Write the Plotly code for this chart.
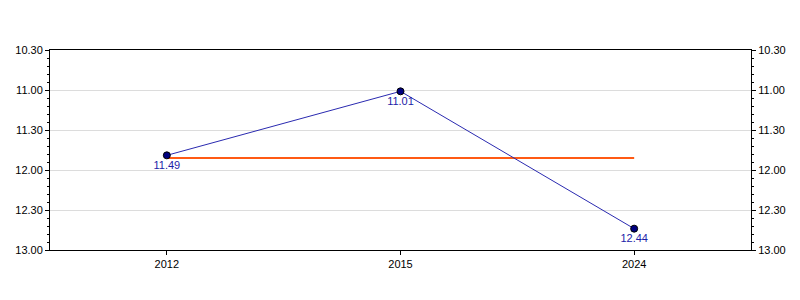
import plotly.graph_objects as go

years = ["2012", "2015", "2024"]
times = ["11.49", "11.01", "12.44"]          # minutes.seconds
average_time = "11.51"                        # orange reference line
y_tick_labels = ["10.30", "11.00", "11.30", "12.00", "12.30", "13.00"]


def to_minutes(s):
    m, sec = s.split(".")
    return int(m) + int(sec) / 60.0


yvals = [to_minutes(t) for t in times]
tickvals = [to_minutes(t) for t in y_tick_labels]
avg = to_minutes(average_time)

FONT = "Liberation Sans, Arial, sans-serif"

fig = go.Figure()
fig.add_trace(go.Scatter(
    x=years, y=[avg] * len(years), mode="lines",
    line=dict(color="#ff5a14", width=2), hoverinfo="skip", showlegend=False))
fig.add_trace(go.Scatter(
    x=years, y=yvals, mode="lines+markers+text",
    text=times, textposition="bottom center",
    textfont=dict(family=FONT, size=11, color="#1c1ca8"),
    line=dict(color="#2a2ab0", width=1),
    marker=dict(size=7, color="#000080", line=dict(color="#000000", width=1)),
    showlegend=False))
fig.add_trace(go.Scatter(
    x=years, y=yvals, yaxis="y2", mode="markers",
    marker=dict(opacity=0), hoverinfo="skip", showlegend=False))

yaxis_common = dict(
    range=[13.0, 10.5], tickvals=tickvals, ticktext=y_tick_labels,
    ticks="outside", ticklen=4, tickcolor="black", tickwidth=1,
    showline=True, linecolor="black", linewidth=1,
    tickfont=dict(family=FONT, size=11, color="black"),
    minor=dict(dtick=0.1, tick0=10.5, ticks="outside", ticklen=2,
               tickcolor="black", showgrid=False),
    zeroline=False,
)

fig.update_layout(
    width=800, height=300,
    margin=dict(l=50, r=49, t=50, b=50),
    plot_bgcolor="white", paper_bgcolor="white",
    font=dict(family=FONT, size=11, color="black"),
    xaxis=dict(
        type="category", range=[-0.5, 2.5],
        showline=True, linecolor="black", linewidth=1, mirror=True,
        ticks="outside", ticklen=4, tickcolor="black",
        showgrid=False, zeroline=False,
        tickfont=dict(family=FONT, size=11, color="black"),
    ),
    yaxis=dict(**yaxis_common, side="left", showgrid=True,
               gridcolor="#dcdcdc", gridwidth=1),
    yaxis2=dict(**yaxis_common, side="right", overlaying="y",
                showgrid=False),
)

fig.write_html("out.html")
